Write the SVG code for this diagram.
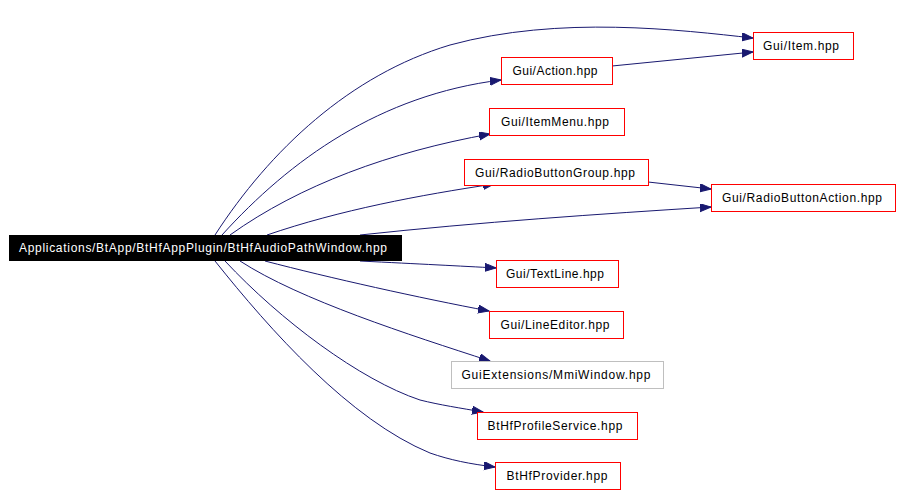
<svg xmlns="http://www.w3.org/2000/svg" width="901" height="496" viewBox="0 0 901 496">
<style>
.n rect{fill:#fff;stroke:#f00;stroke-width:1}
.n.g rect{stroke:#bfbfbf}
.n text{font-family:"Liberation Sans",Arial,sans-serif;font-size:12px;fill:#000;text-anchor:middle}
#main rect{fill:#000;stroke:#000}
#main text{fill:#fff}
#edges path{fill:none;stroke:#191970;stroke-width:1;marker-end:url(#ah)}
</style>
<defs>
<marker id="ah" markerUnits="userSpaceOnUse" markerWidth="13" markerHeight="10" refX="11" refY="4" orient="auto">
<path d="M0,0 L11,4 L0,8 z" fill="#191970" stroke="#191970" stroke-width="1"/>
</marker>
</defs>
<rect width="901" height="496" fill="#fff"/>
<g id="edges">
<path d="M215,235 C270,150 350,75 450,45 C560,15 680,30 753,38"/>
<path d="M222,235 C290,160 380,95 501,80"/>
<path d="M230,235 C300,185 390,152 490,134"/>
<path d="M267,235 C340,210 420,195 494,184"/>
<path d="M360,235 C480,222 600,214 711,207"/>
<path d="M648,182 L711,189"/>
<path d="M612,66 L753,52"/>
<path d="M360,261 C420,264 460,266 496,268"/>
<path d="M265,261 C330,278 420,298 489,311"/>
<path d="M240,261 C300,300 410,335 490,361"/>
<path d="M225,261 C280,320 360,380 420,400 C440,405 460,408 483,412"/>
<path d="M215,261 C270,330 350,420 430,453 C450,460 470,464 495,467"/>
</g>
<g id="main" class="n"><rect x="9.5" y="235.5" width="392" height="25"/><text x="203" y="252" textLength="368" lengthAdjust="spacing">Applications/BtApp/BtHfAppPlugin/BtHfAudioPathWindow.hpp</text></g>
<g id="item" class="n"><rect x="753.5" y="32.5" width="100" height="27"/><text x="801" y="50" textLength="76" lengthAdjust="spacing">Gui/Item.hpp</text></g>
<g id="action" class="n"><rect x="501.5" y="57.5" width="111" height="27"/><text x="555" y="75" textLength="85" lengthAdjust="spacing">Gui/Action.hpp</text></g>
<g id="itemmenu" class="n"><rect x="489.5" y="108.5" width="135" height="27"/><text x="555" y="126" textLength="108" lengthAdjust="spacing">Gui/ItemMenu.hpp</text></g>
<g id="rbgroup" class="n"><rect x="464.5" y="159.5" width="184" height="26"/><text x="555" y="177" textLength="160" lengthAdjust="spacing">Gui/RadioButtonGroup.hpp</text></g>
<g id="rbaction" class="n"><rect x="711.5" y="184.5" width="184" height="27"/><text x="802" y="202" textLength="160" lengthAdjust="spacing">Gui/RadioButtonAction.hpp</text></g>
<g id="textline" class="n"><rect x="496.5" y="260.5" width="122" height="27"/><text x="555" y="278" textLength="98" lengthAdjust="spacing">Gui/TextLine.hpp</text></g>
<g id="lineeditor" class="n"><rect x="489.5" y="311.5" width="134" height="27"/><text x="555" y="329" textLength="109" lengthAdjust="spacing">Gui/LineEditor.hpp</text></g>
<g id="mmiwindow" class="n g"><rect x="451.5" y="361.5" width="212" height="27"/><text x="556" y="379" textLength="189" lengthAdjust="spacing">GuiExtensions/MmiWindow.hpp</text></g>
<g id="profileservice" class="n"><rect x="477.5" y="412.5" width="160" height="27"/><text x="555" y="430" textLength="135" lengthAdjust="spacing">BtHfProfileService.hpp</text></g>
<g id="provider" class="n"><rect x="495.5" y="462.5" width="125" height="27"/><text x="557" y="480" textLength="101" lengthAdjust="spacing">BtHfProvider.hpp</text></g>
</svg>
